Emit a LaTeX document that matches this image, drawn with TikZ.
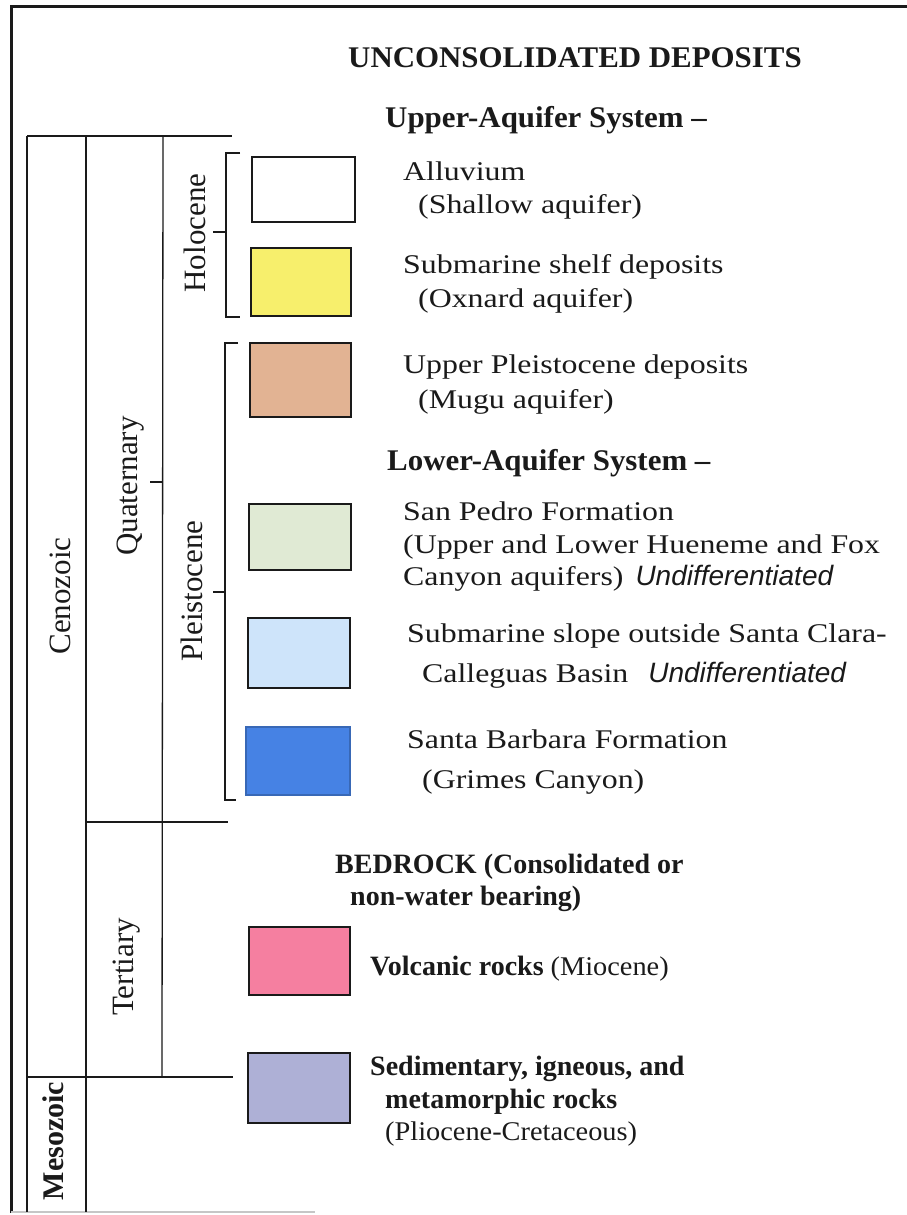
\documentclass[tikz,border=0pt]{standalone}
\usepackage{fontspec}
\setmainfont{Liberation Serif}
\newfontfamily\rgf[FakeStretch=1.18]{Liberation Serif}
\newfontfamily\rgnf[FakeStretch=1.05]{Liberation Serif}
\newfontfamily\bdf{Liberation Serif}
\newfontfamily\aqf[FakeStretch=1.03]{Liberation Serif}
\newfontfamily\sfif{Liberation Sans}
\definecolor{inkc}{HTML}{1A1A1A}
\definecolor{cyellow}{HTML}{F7EF6C}
\definecolor{ctan}{HTML}{E2B393}
\definecolor{cgreen}{HTML}{E0EAD4}
\definecolor{clblue}{HTML}{CEE4FA}
\definecolor{cblue}{HTML}{4682E4}
\definecolor{cpink}{HTML}{F57FA0}
\definecolor{clav}{HTML}{AEB0D6}
\tikzset{
  rg/.style={anchor=base west, inner sep=0pt, text=inkc, font=\rgf\fontsize{27}{30}\selectfont},
  rgn/.style={anchor=base west, inner sep=0pt, text=inkc, font=\rgnf\fontsize{27}{30}\selectfont},
  bd/.style={anchor=base west, inner sep=0pt, text=inkc, font=\bdf\bfseries\fontsize{28}{31}\selectfont},
  aq/.style={anchor=base west, inner sep=0pt, text=inkc, font=\aqf\bfseries\fontsize{30}{33}\selectfont},
  hd/.style={anchor=base west, inner sep=0pt, text=inkc, font=\aqf\bfseries\fontsize{30}{33}\selectfont},
  era/.style={anchor=base, rotate=90, inner sep=0pt, text=inkc, font=\fontsize{31}{34}\selectfont},
  erab/.style={anchor=base, rotate=90, inner sep=0pt, text=inkc, font=\bfseries\fontsize{30}{33}\selectfont},
  col/.style={draw=inkc, line width=1.3pt},
  swatch/.style={draw=inkc, line width=1.4pt},
}
\newcommand{\und}{{\sfif\itshape\fontsize{28}{30}\selectfont Undifferentiated}}
\begin{document}
\begin{tikzpicture}[x=1pt,y=-1pt]
\useasboundingbox (0,0) rectangle (907,1215);
\fill[white] (0,0) rectangle (907,1215);
% frame
\draw[inkc, line width=3pt] (11,1213) -- (11,7) -- (907,7);
\draw[gray!45, line width=1.2pt] (11,1212) -- (315,1212);
% time columns
\coordinate (a1) at (27,136); \coordinate (a2) at (27,1212);
\coordinate (b1) at (86,136); \coordinate (b2) at (86,1212);
\coordinate (c1) at (163,136); \coordinate (c2) at (162,1077);
\draw[col] (a1) -- (a2);
\draw[col] (b1) -- (b2);
\draw[col] (c1) -- (c2);
\draw[col] (a1) -- (232,136);
\draw[col] (86,822) -- (228,822);
\draw[col] (27,1077) -- (233,1077);
\draw[col] (150,482) -- (163,482);
% Holocene bracket
\draw[col] (240,153) -- (226,153) -- (226,317) -- (240,317);
\draw[col] (213,232) -- (226,232);
% Pleistocene bracket
\draw[col] (238,343) -- (225,343) -- (225,800) -- (236,800);
\draw[col] (213,592) -- (225,592);
% era labels
\node[era] (ceno) at (70,596) {Cenozoic};
\node[era] (quat) at (137,486) {Quaternary};
\node[era] (holo) at (205,233) {Holocene};
\node[era] (plei) at (202,591) {Pleistocene};
\node[era] (tert) at (133,967) {Tertiary};
\node[erab] (meso) at (63,1141) {Mesozoic};
% swatches
\draw[swatch, fill=white]   (252,157) rectangle (355,222);
\draw[swatch, fill=cyellow] (251,248) rectangle (351,316);
\draw[swatch, fill=ctan]    (250,343) rectangle (351,417);
\draw[swatch, fill=cgreen]  (249,504) rectangle (351,570);
\draw[swatch, fill=clblue]  (248,618) rectangle (350,688);
\draw[swatch, draw=cblue!80!black, fill=cblue]   (246,727) rectangle (350,795);
\draw[swatch, fill=cpink]   (249,927) rectangle (350,995);
\draw[swatch, fill=clav]    (248,1053) rectangle (350,1123);
% texts
\node[hd] (t0) at (348,67) {UNCONSOLIDATED DEPOSITS};
\node[aq] (t1) at (385,127) {Upper-Aquifer System –};
\node[rg] (t2) at (403,180) {Alluvium};
\node[rg] (t3) at (418,213) {(Shallow aquifer)};
\node[rg] (t4) at (403,273) {Submarine shelf deposits};
\node[rg] (t5) at (418,307) {(Oxnard aquifer)};
\node[rg] (t6) at (403,373) {Upper Pleistocene deposits};
\node[rg] (t7) at (418,408) {(Mugu aquifer)};
\node[aq] (t8) at (387,470) {Lower-Aquifer System –};
\node[rg] (t9) at (403,520) {San Pedro Formation};
\node[rg] (t10) at (403,553) {(Upper and Lower Hueneme and Fox};
\node[rg] (t11) at (403,585) {Canyon aquifers)\hspace{12pt}\und};
\node[rg] (t12) at (407,642) {Submarine slope outside Santa Clara-};
\node[rg] (t13) at (422,682) {Calleguas Basin\hspace{20pt}\und};
\node[rg] (t14) at (407,748) {Santa Barbara Formation};
\node[rg] (t15) at (422,788) {(Grimes Canyon)};
\node[bd] (t16) at (335,873) {BEDROCK (Consolidated or};
\node[bd] (t17) at (350,905) {non-water bearing)};
\node[bd] (t18) at (370,975) {Volcanic rocks {\rgnf\mdseries\fontsize{27}{30}\selectfont (Miocene)}};
\node[bd] (t19) at (370,1075) {Sedimentary, igneous, and};
\node[bd] (t20) at (385,1108) {metamorphic rocks};
\node[rgn] (t21) at (385,1140) {(Pliocene-Cretaceous)};
\end{tikzpicture}
\end{document}
